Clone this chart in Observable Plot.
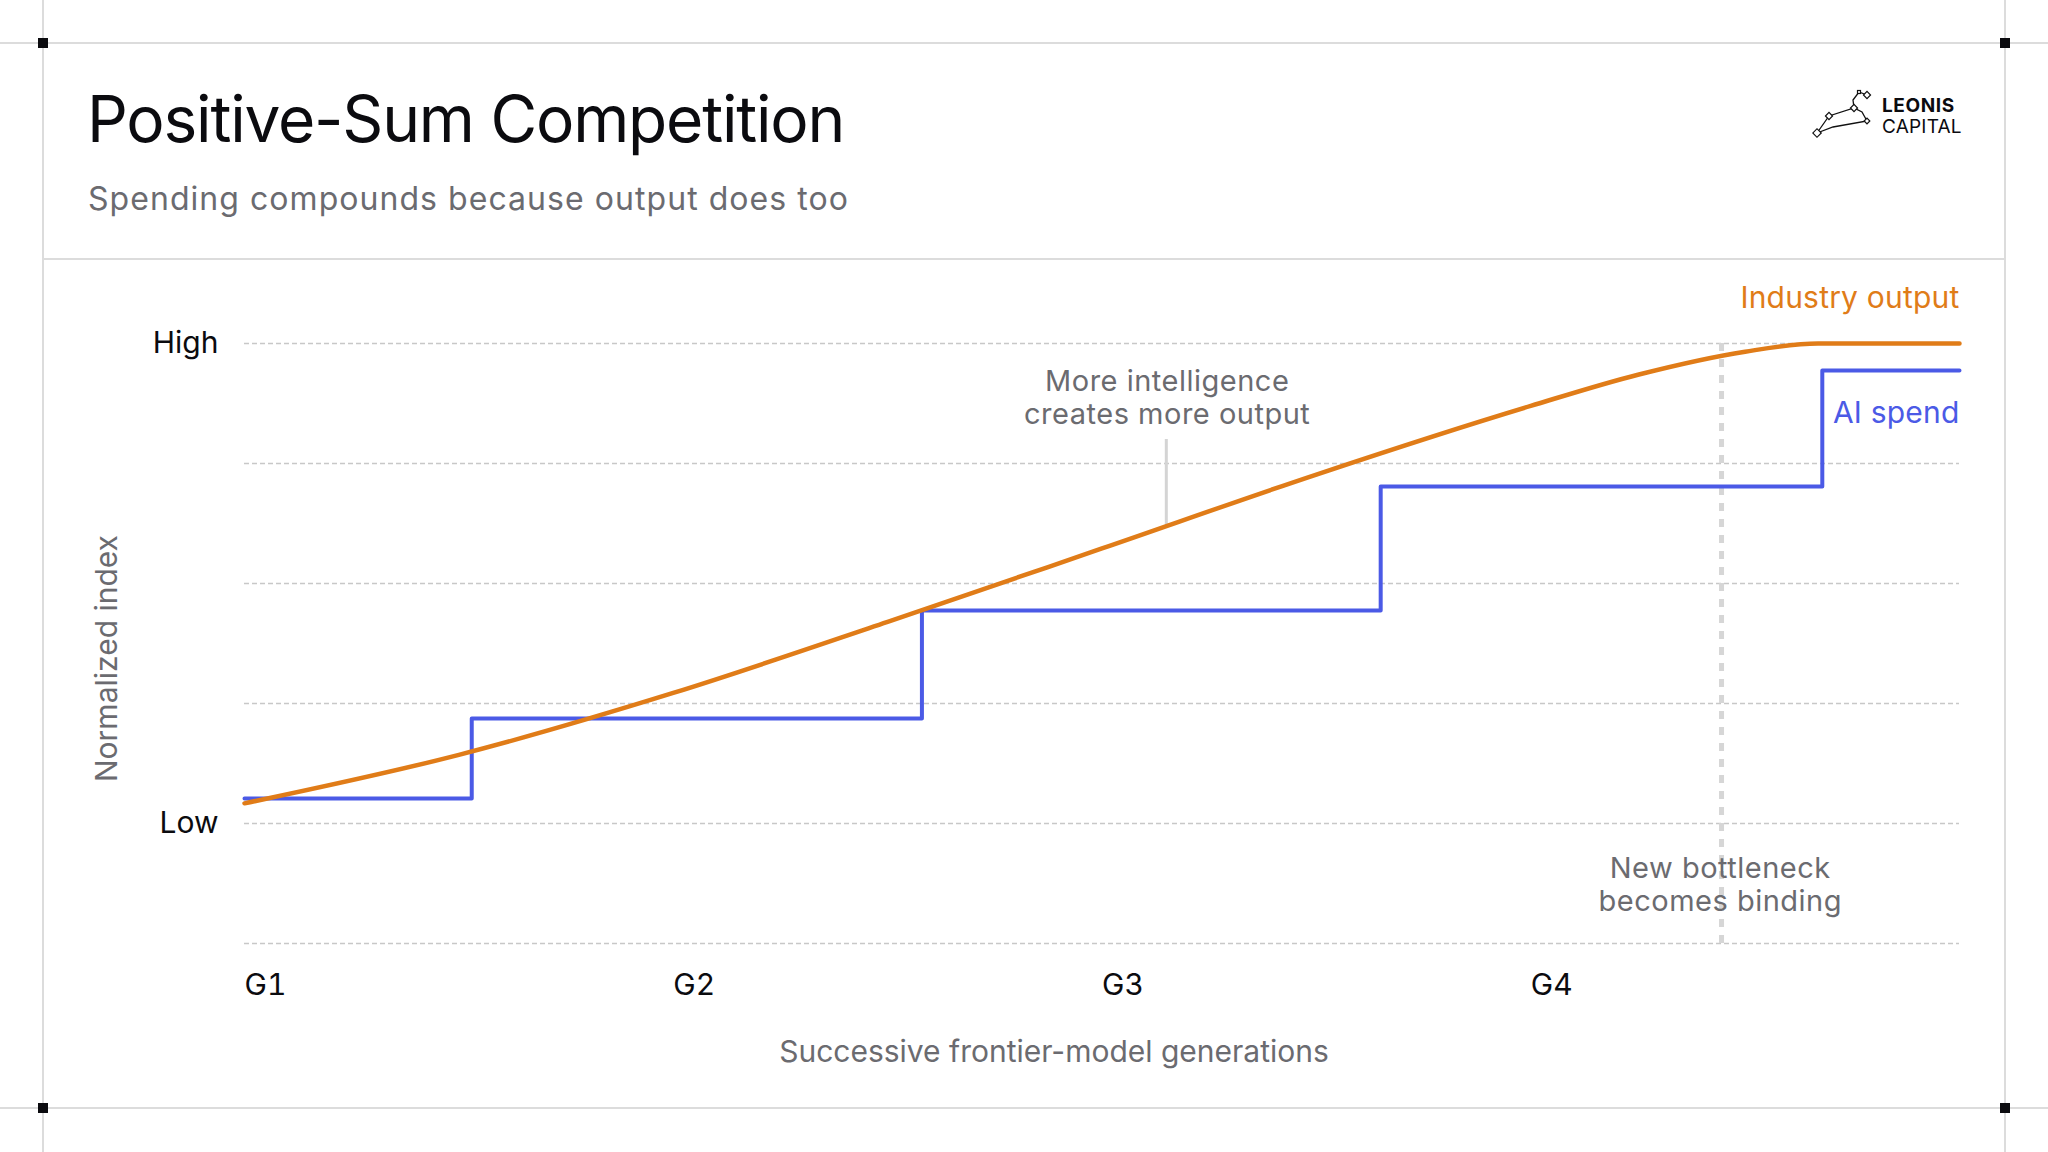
<!DOCTYPE html>
<html>
<head>
<meta charset="utf-8">
<script src="https://cdn.jsdelivr.net/npm/d3@7"></script>
<script src="https://cdn.jsdelivr.net/npm/@observablehq/plot@0.6"></script>
<style>
  html, body { margin: 0; padding: 0; background: #fff; }
  body { width: 2048px; height: 1152px; overflow: hidden; font-family: Inter, "Noto Sans", sans-serif; }
  #page { position: relative; width: 2048px; height: 1152px; }
  .hline { position: absolute; height: 2px; background: #dcdcdc; }
  .vline { position: absolute; width: 2px; background: #dcdcdc; }
  .corner { position: absolute; width: 10px; height: 10px; background: #0b0b0f; }
  .txt { position: absolute; white-space: nowrap; line-height: 1; }
  #chart { position: absolute; left: 0; top: 259px; }
</style>
</head>
<body>
<div id="page">
  <div class="hline" style="left:0;top:42px;width:2048px"></div>
  <div class="hline" style="left:0;top:1107px;width:2048px"></div>
  <div class="hline" style="left:43px;top:258px;width:1962px"></div>
  <div class="vline" style="left:42px;top:0;height:1152px"></div>
  <div class="vline" style="left:2004px;top:0;height:1152px"></div>
  <div class="corner" style="left:38px;top:38px"></div>
  <div class="corner" style="left:2000px;top:38px"></div>
  <div class="corner" style="left:38px;top:1103px"></div>
  <div class="corner" style="left:2000px;top:1103px"></div>

  <div class="txt" id="title" style="left:87px;top:87px;font-size:64px;color:#0b0b0f;letter-spacing:-1.2px">Positive-Sum Competition</div>
  <div class="txt" id="subtitle" style="left:88px;top:183px;font-size:32px;color:#6b6b70;letter-spacing:1.05px">Spending compounds because output does too</div>

  <svg style="position:absolute;left:1812px;top:86px" width="64" height="54" viewBox="1812 86 64 54">
    <g fill="none" stroke="#111" stroke-width="1.3">
      <polyline points="1817,133 1829,116 1854,108 1862,112 1867,121 1833,127 1817,133"/>
      <polyline points="1854,108 1853,100 1859,92 1867,95"/>
    </g>
    <g fill="#fff" stroke="#111" stroke-width="1.2">
      <rect x="1814" y="130" width="6" height="6" transform="rotate(45 1817 133)"/>
      <rect x="1826.5" y="113.5" width="5" height="5" transform="rotate(45 1829 116)"/>
      <rect x="1851.5" y="105.5" width="5" height="5" transform="rotate(45 1854 108)"/>
      <rect x="1865" y="119" width="4" height="4" transform="rotate(45 1867 121)"/>
      <rect x="1864.5" y="92.5" width="5" height="5" transform="rotate(45 1867 95)"/>
      <rect x="1857.5" y="90.5" width="3" height="3"/>
    </g>
  </svg>
  <div class="txt" style="left:1882px;top:96px;font-size:19px;font-weight:700;color:#0b0b0f;letter-spacing:0.6px">LEONIS</div>
  <div class="txt" style="left:1882px;top:117px;font-size:19px;color:#0b0b0f;letter-spacing:0.2px">CAPITAL</div>

  <div id="chart"></div>
</div>
<script>
// ---- data ----
const generationTicks = [0, 1, 2, 3];
const generationLabels = ["G1", "G2", "G3", "G4"];
const levelTicks = [0, 1];
const levelLabels = ["Low", "High"];
const gridValues = [-0.25, 0, 0.25, 0.5, 0.75, 1];

// Industry output (smooth curve)
const outputX = [0, 0.5, 1.0, 1.5, 2.0, 2.5, 3.0, 3.25, 3.5, 3.67, 4.0];
const outputY = [0.042, 0.143, 0.272, 0.42, 0.573, 0.727, 0.87, 0.935, 0.983, 1.0, 1.0];

// AI spend (step function)
const spendX = [0, 0.53, 1.58, 2.65, 3.68, 4.0];
const spendY = [0.052, 0.219, 0.444, 0.702, 0.944, 0.944];

// annotations
const seriesLabels = ["Industry output", "AI spend"];
const seriesLabelX = [4, 4];
const seriesLabelY = [1.075, 0.835];
const noteText = ["More intelligence\ncreates more output", "New bottleneck\nbecomes binding"];
const noteX = [2.152, 3.442];
const noteY = [0.833, -0.183];
const leaderX = 2.15, leaderY1 = 0.80, leaderY2 = 0.621;
const bottleneckX = 3.445, bottleneckY1 = 1.0, bottleneckY2 = -0.25;

const xTitle = "Successive frontier-model generations";
const yTitle = "Normalized index";

// ---- tables ----
const outputData = outputX.map((x, i) => ({x, y: outputY[i]}));
const spendData = spendX.map((x, i) => ({x, y: spendY[i]}));
const labelData = seriesLabels.map((t, i) => ({t, x: seriesLabelX[i], y: seriesLabelY[i]}));
const noteData = noteText.map((t, i) => ({t, x: noteX[i], y: noteY[i]}));

const ORANGE = "#e07c18";
const BLUE = "#4b5ae6";
const GRAY = "#6b6b70";

const chart = Plot.plot({
  width: 2048,
  height: 893,
  marginLeft: 244,
  marginRight: 89,
  marginTop: 84,
  marginBottom: 209,
  style: {fontFamily: "Inter, 'Noto Sans', sans-serif", fontSize: "30px", color: "#0b0b0f", background: "transparent", overflow: "visible"},
  x: {domain: [0, 4]},
  y: {domain: [-0.25, 1]},
  marks: [
    Plot.ruleY(gridValues, {stroke: "#c8c8c8", strokeWidth: 1.5, strokeDasharray: "5,3"}),
    Plot.axisY({ticks: levelTicks, tickFormat: d => levelLabels[levelTicks.indexOf(d)], tickSize: 0, tickPadding: 26, fontSize: 30, label: null, fill: "#0b0b0f"}),
    Plot.axisX({ticks: generationTicks, tickFormat: d => generationLabels[generationTicks.indexOf(d)], tickSize: 0, tickPadding: 30, textAnchor: "start", fontSize: 30, label: null, fill: "#0b0b0f"}),
    Plot.text([xTitle], {frameAnchor: "bottom", textAnchor: "middle", dx: -48, dy: 118, lineAnchor: "bottom", fontSize: 30, fill: GRAY}),
    Plot.text([yTitle], {frameAnchor: "left", textAnchor: "middle", rotate: -90, dx: -128, dy: 15, lineAnchor: "bottom", fontSize: 30, fill: GRAY}),
    Plot.ruleX([bottleneckX], {y1: bottleneckY1, y2: bottleneckY2, stroke: "#d6d6d6", strokeWidth: 5, strokeDasharray: "8,8"}),
    Plot.ruleX([leaderX], {y1: leaderY1, y2: leaderY2, stroke: "#d4d4d4", strokeWidth: 3}),
    Plot.line(spendData, {x: "x", y: "y", curve: "step-after", stroke: BLUE, strokeWidth: 4}),
    Plot.line(outputData, {x: "x", y: "y", curve: "monotone-x", stroke: ORANGE, strokeWidth: 4.5}),
    Plot.text(labelData, {x: "x", y: "y", text: "t", textAnchor: "end", lineAnchor: "bottom", fontSize: 30, fill: (d, i) => i === 0 ? ORANGE : BLUE}),
    Plot.text(noteData, {x: "x", y: "y", text: "t", textAnchor: "middle", lineAnchor: "bottom", lineHeight: 1.14, fontSize: 29, fill: GRAY})
  ]
});
// slight tracking on the annotation texts, as in the reference
d3.select(chart).selectAll("text").filter(function () {
  const t = this.textContent;
  return noteText.some(n => n.replace("\n", "") === t);
}).attr("letter-spacing", "0.5px");
d3.select(chart).selectAll("text").filter(function () {
  return seriesLabels.includes(this.textContent);
}).attr("letter-spacing", "0.2px");
document.getElementById("chart").appendChild(chart);
</script>
</body>
</html>
